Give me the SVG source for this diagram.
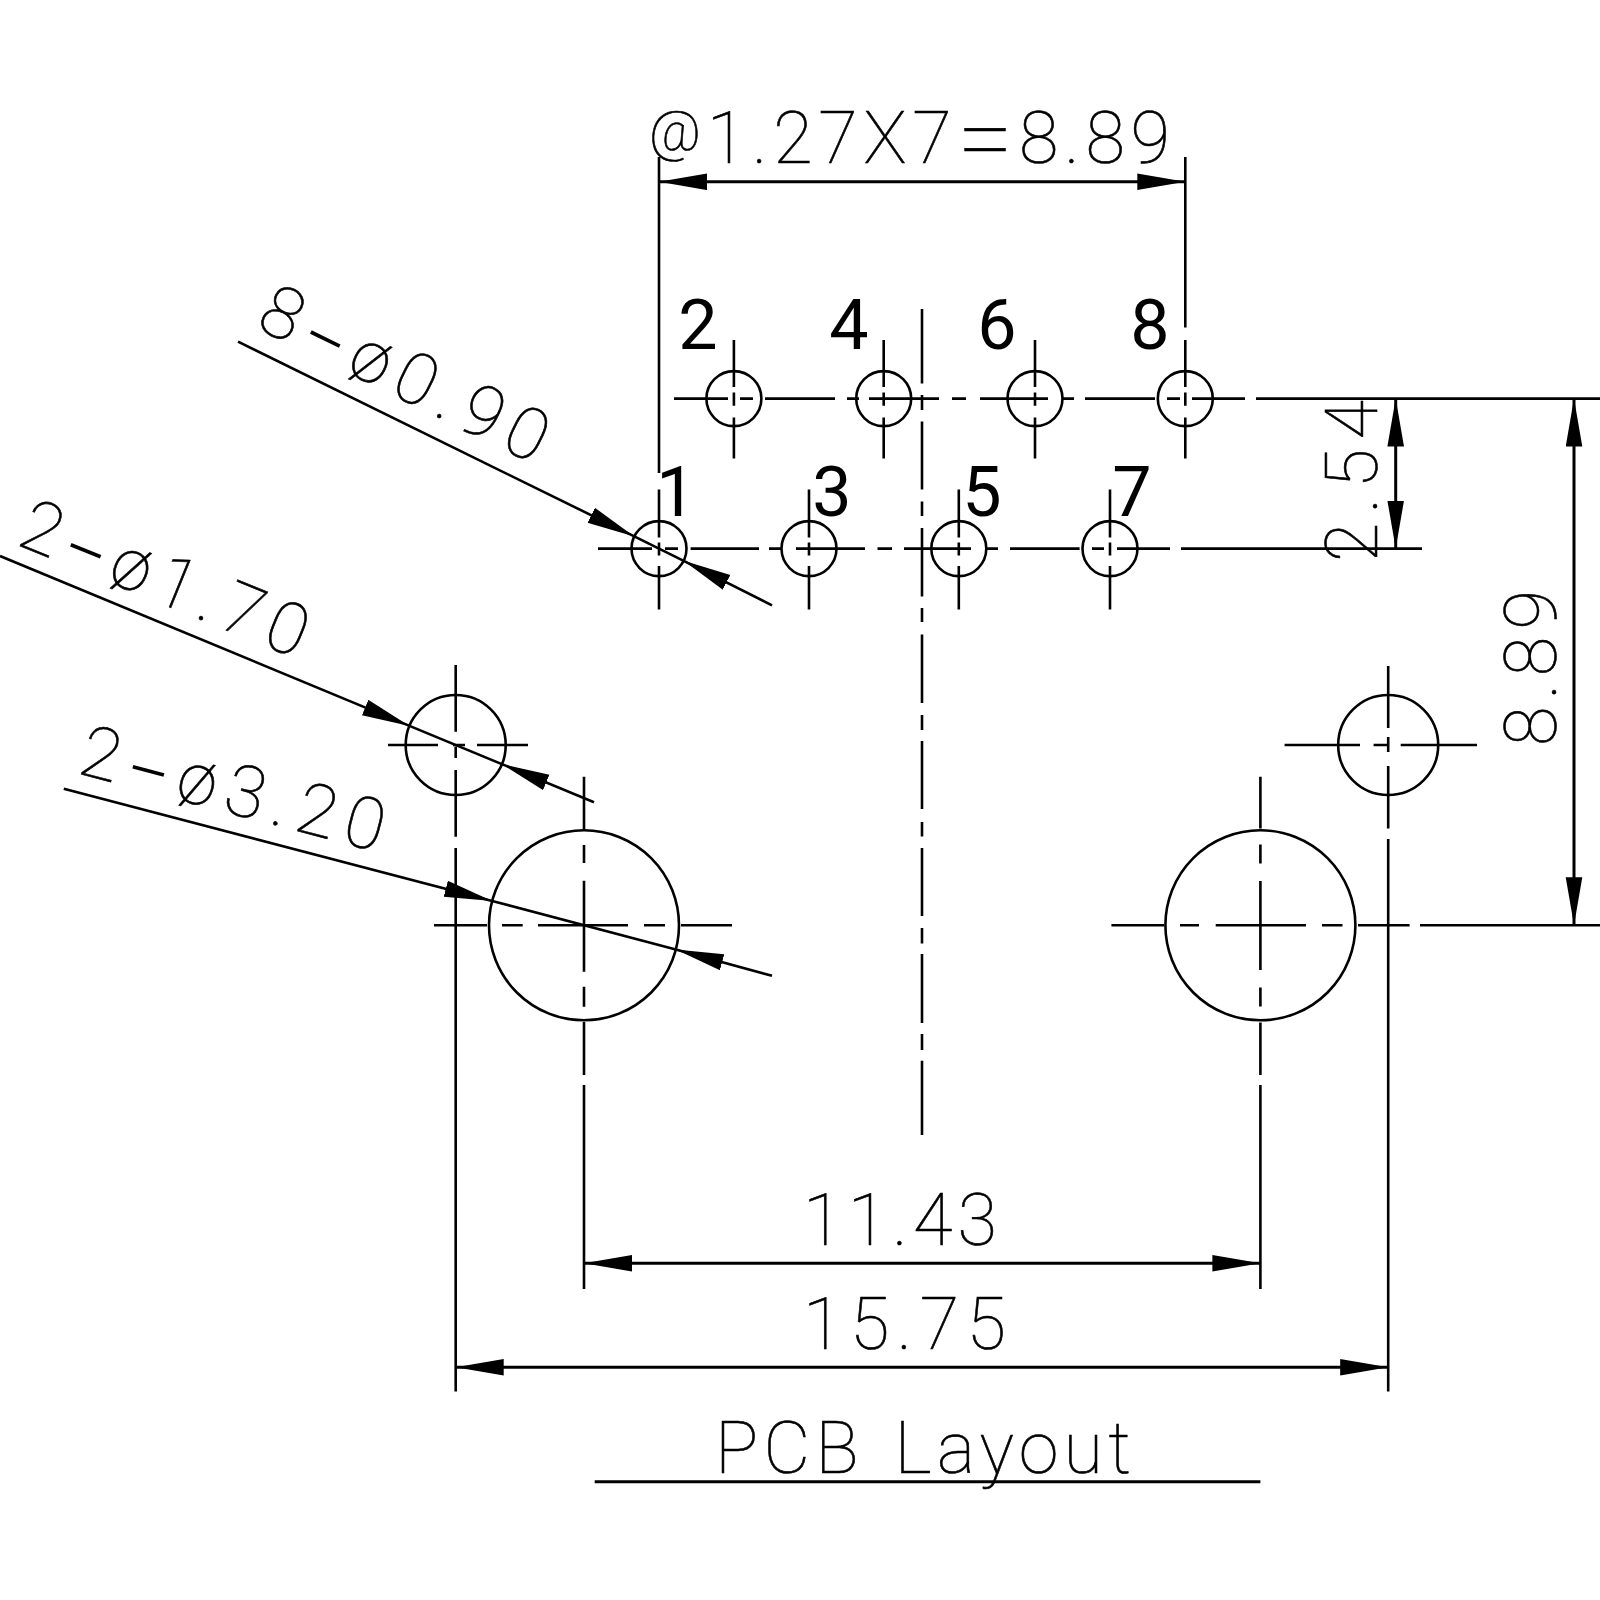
<svg xmlns="http://www.w3.org/2000/svg" width="1600" height="1600" viewBox="0 0 1600 1600">
<style>
.l{fill:none;stroke:#000;stroke-width:2.6}
.d{fill:none;stroke:#000;stroke-width:3}
.a{marker-end:url(#arrow)}
.b{marker-start:url(#arrow);marker-end:url(#arrow)}
.t{font-family:"Roboto","Liberation Sans",sans-serif;font-weight:100;font-size:72px;fill:#000;stroke:#000;stroke-width:.6}
.p{font-family:"Roboto","Liberation Sans",sans-serif;font-weight:400;font-size:70px;fill:#000;text-anchor:middle}
</style>
<defs>
<marker id="arrow" markerUnits="userSpaceOnUse" markerWidth="50" markerHeight="18" refX="48" refY="8.5" orient="auto-start-reverse"><path d="M0,0.2L48,8.5L0,16.8z" fill="#000"/></marker>
</defs>
<rect width="1600" height="1600" fill="#fff"/>
<g id="centerlines" class="l">
<path d="M922,309V383.5M922,395V410M922,421.5V489.5M922,501.5V516M922,528V596.5M922,608V622M922,634.6V703M922,715V730M922,741V809M922,822V836.4M922,848V916M922,928V943.6M922,954V1023M922,1034V1050M922,1060.7V1135"/>
<path d="M674,398.6H728M740,398.6H753M765,398.6H835M847,398.6H859M869,398.6H939M952,398.6H966M980,398.6H1048M1063,398.6H1074M1085,398.6H1155M1167,398.6H1180M1192,398.6H1245M1256,398.6H1422"/>
<path d="M598,548.6H652M665,548.6H678M690.6,548.6H759M769,548.6H781.6M796,548.6H865M877.5,548.6H892M904,548.6H971M986,548.6H998M1010,548.6H1079.6M1092,548.6H1104M1117,548.6H1170M1181,548.6H1422"/>
</g>
<g id="pin-2"><circle class="l" cx="733.9" cy="398.6" r="27.5"/><path class="l" d="M733.9,340V387M733.9,392.5V405.7M733.9,417.5V458.6"/><text class="p" x="698" y="348.6">2</text></g>
<g id="pin-4"><circle class="l" cx="883.7" cy="398.6" r="27.5"/><path class="l" d="M883.7,340V387M883.7,392.5V405.7M883.7,417.5V458.6"/><text class="p" x="849" y="348.6">4</text></g>
<g id="pin-6"><circle class="l" cx="1035" cy="398.6" r="27.5"/><path class="l" d="M1035,340V387M1035,392.5V405.7M1035,417.5V458.6"/><text class="p" x="997" y="348.6">6</text></g>
<g id="pin-8"><circle class="l" cx="1185.3" cy="398.6" r="27.5"/><path class="l" d="M1185.3,340V387M1185.3,392.5V405.7M1185.3,417.5V458.6"/><text class="p" x="1150" y="348.6">8</text></g>
<g id="pin-1"><circle class="l" cx="659" cy="548.6" r="27.5"/><path class="l" d="M659,489.6V537.5M659,542.5V555.5M659,566V609.6"/><text class="p" x="676" y="515.7">1</text></g>
<g id="pin-3"><circle class="l" cx="809" cy="548.6" r="27.5"/><path class="l" d="M809,489.6V537.5M809,542.5V555.5M809,566V609.6"/><text class="p" x="832" y="515.7">3</text></g>
<g id="pin-5"><circle class="l" cx="958.8" cy="548.6" r="27.5"/><path class="l" d="M958.8,489.6V537.5M958.8,542.5V555.5M958.8,566V609.6"/><text class="p" x="982" y="515.7">5</text></g>
<g id="pin-7"><circle class="l" cx="1110" cy="548.6" r="27.5"/><path class="l" d="M1110,489.6V537.5M1110,542.5V555.5M1110,566V609.6"/><text class="p" x="1132" y="515.7">7</text></g>
<g id="hole-small-left"><circle class="l" cx="455.7" cy="745" r="50"/><path class="l" d="M388,745H438M453,745H465M477,745H528M455.7,665V731.7M455.7,746.7V758M455.7,770V836.7M455.7,848V1391.5"/></g>
<g id="hole-small-right"><circle class="l" cx="1388.2" cy="745" r="50"/><path class="l" d="M1284.6,745H1360M1373.6,745H1388M1400.7,745H1477M1388.2,666V728M1388.2,737V752M1388.2,766V828.6M1388.2,839V1391.5"/></g>
<g id="hole-large-left"><circle class="l" cx="584" cy="925.3" r="95"/><path class="l" d="M434,925.3H487M502,925.3H522.7M538,925.3H628M644,925.3H665M681,925.3H732M584,776.7V829M584,845V863M584,880.7V971.7M584,986.7V1006.7M584,1022V1075M584,1085V1289"/></g>
<g id="hole-large-right"><circle class="l" cx="1260.4" cy="925.3" r="95"/><path class="l" d="M1111.4,925.3H1164M1180,925.3H1199M1215.7,925.3H1306M1322,925.3H1342.5M1358,925.3H1409.6M1260.4,776.8V828.6M1260.4,844.6V863.6M1260.4,881V970M1260.4,987.5V1006.4M1260.4,1022.5V1075M1260.4,1085V1289"/></g>
<g id="connectors">
<path class="l" d="M659,157V473M1185.3,157V327.5M1422,398.6H1600M1420,925.3H1600"/>
<line class="d b" x1="659" y1="181.8" x2="1185.3" y2="181.8"/>
<line class="d b" x1="1395.7" y1="398.6" x2="1395.7" y2="548.6"/>
<line class="d b" x1="1574" y1="398.6" x2="1574" y2="925.3"/>
<line class="d b" x1="584" y1="1263.3" x2="1260.4" y2="1263.3"/>
<line class="d b" x1="455.7" y1="1367.3" x2="1388.2" y2="1367.3"/>
<line class="l a" x1="238" y1="341.7" x2="634.3" y2="536.4"/>
<line class="l a" x1="772" y1="605.3" x2="683.7" y2="560.8"/>
<line class="l" x1="634.3" y1="536.4" x2="683.7" y2="560.8"/>
<line class="l a" x1="0" y1="556" x2="409.5" y2="725.9"/>
<line class="l a" x1="594" y1="802.2" x2="501.9" y2="764.1"/>
<line class="l" x1="409.5" y1="725.9" x2="501.9" y2="764.1"/>
<line class="l a" x1="63.8" y1="788.7" x2="492.2" y2="901"/>
<line class="l a" x1="772" y1="975.8" x2="675.8" y2="949.6"/>
<line class="l" x1="492.2" y1="901" x2="675.8" y2="949.6"/>
<line class="d" x1="594.7" y1="1481.7" x2="1260.4" y2="1481.7"/>
</g>
<g id="labels">
<text class="t" x="649" y="163" textLength="521"><tspan font-size="56" dy="-13">@</tspan><tspan dy="13">1.27X7</tspan><tspan font-size="100" dy="9">=</tspan><tspan dy="-9">8.89</tspan></text>
<text class="t" x="803" y="1245" textLength="194">11.43</text>
<text class="t" x="803" y="1349" textLength="203">15.75</text>
<text class="t" x="715" y="1473" textLength="416">PCB <tspan dx="8">Layout</tspan></text>
<text class="t" transform="translate(1377 562) rotate(-90)" textLength="162">2.54</text>
<text class="t" transform="translate(1556 746) rotate(-90)" textLength="156">8.89</text>
<text class="t" transform="translate(254 327) rotate(26.2)" textLength="312">8<tspan font-size="140" dy="25" stroke-width="0">-</tspan><tspan dy="-25">ø0.90</tspan></text>
<text class="t" transform="translate(15 544) rotate(22.2)" textLength="304">2<tspan font-size="140" dy="25" stroke-width="0">-</tspan><tspan dy="-25">ø1.70</tspan></text>
<text class="t" transform="translate(76 773) rotate(14.7)" textLength="312">2<tspan font-size="140" dy="25" stroke-width="0">-</tspan><tspan dy="-25">ø3.20</tspan></text>
</g>
</svg>
